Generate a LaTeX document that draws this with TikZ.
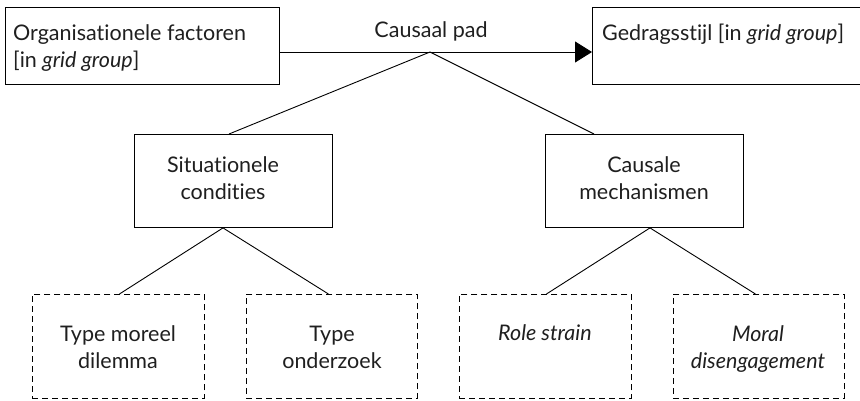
\documentclass[tikz,border=0pt]{standalone}
\usepackage{fontspec}
\setmainfont{Lato}[Ligatures=NoCommon]
\usetikzlibrary{arrows.meta,calc}
\begin{document}
\begin{tikzpicture}[x=1pt,y=-1pt,
  solidbox/.style={draw, line width=0.9pt, rectangle, inner sep=0pt, anchor=north west},
  dashbox/.style={draw, line width=0.9pt, dash pattern=on 6pt off 4pt, rectangle, inner sep=0pt, anchor=north west},
  txt/.style={font=\fontsize{21.5}{27}\selectfont, text=black!88, inner sep=0pt, align=center, anchor=base},
  ltxt/.style={font=\fontsize{21.5}{27}\selectfont, text=black!88, inner sep=0pt, align=left, anchor=base west},
  conn/.style={line width=0.9pt}]
\useasboundingbox (0,0) rectangle (860,400);
\clip (0,0) rectangle (860,400);
% boxes
\node[solidbox, minimum width=274pt, minimum height=77pt] (org) at (5,7) {};
\node[solidbox, minimum width=290pt, minimum height=77pt] (ged) at (592,7) {};
\node[solidbox, minimum width=198pt, minimum height=93pt] (sit) at (134,134) {};
\node[solidbox, minimum width=198pt, minimum height=93pt] (cau) at (545,134) {};
\node[dashbox, minimum width=172pt, minimum height=104pt] (tmd) at (32,294) {};
\node[dashbox, minimum width=171pt, minimum height=104pt] (tod) at (246,294) {};
\node[dashbox, minimum width=172pt, minimum height=104pt] (rst) at (459,294) {};
\node[dashbox, minimum width=171pt, minimum height=104pt] (mdg) at (673,294) {};
% texts (anchored at the baseline of their last line)
\node[ltxt] (torg) at (13,67) {Organisationele factoren\\{[}in \textit{grid group}]};
\node[ltxt] (tged) at (602,40) {Gedragsstijl [in \textit{grid group}]};
\node[txt] (tpad) at (431,37) {Causaal pad};
\node[txt] (tsit) at (223,199) {Situationele\\condities};
\node[txt] (tcau) at (644,199) {Causale\\mechanismen};
\node[txt] (ttmd) at (118,368) {Type moreel\\dilemma};
\node[txt] (ttod) at (332,368) {Type\\onderzoek};
\node[txt] (trst) at (545,340) {\textit{Role strain}};
\node[txt] (tmdg) at (758,368) {\textit{Moral}\\\textit{disengagement}};
% connectors
\coordinate (apex) at (430,52);
\draw[conn, -{Triangle[length=17pt,width=21pt]}] (apex -| org.east) -- (apex -| ged.west);
\draw[conn] ([xshift=95pt]sit.north west) -- (apex) -- ([xshift=49pt]cau.north west);
\coordinate (sitb) at ([xshift=89pt]sit.south west);
\coordinate (caub) at ([xshift=105pt]cau.south west);
\draw[conn] ([xshift=1pt]tmd.north) -- (sitb) -- ([xshift=-3.5pt]tod.north);
\draw[conn] ([xshift=1pt]rst.north) -- (caub) -- ([xshift=-3.5pt]mdg.north);
\end{tikzpicture}
\end{document}
